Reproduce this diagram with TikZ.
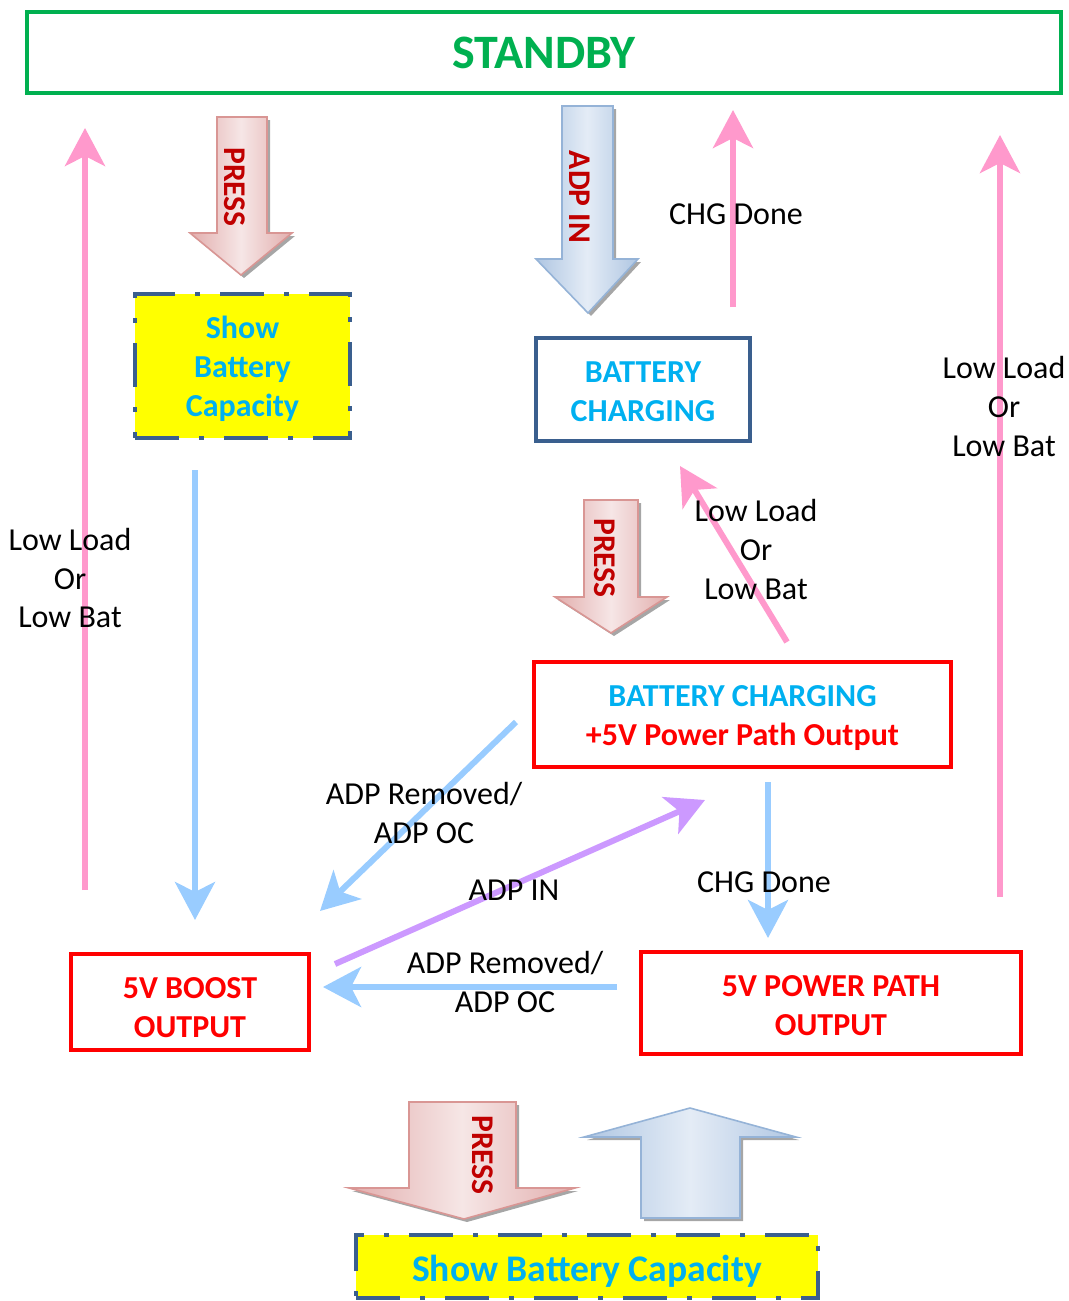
\documentclass[tikz,border=0pt]{standalone}
\usepackage{fontspec}
\setmainfont{Carlito}
\usetikzlibrary{arrows.meta,positioning}

\definecolor{standbygreen}{HTML}{00B050}
\definecolor{titleblue}{HTML}{00B0F0}
\definecolor{boxblue}{HTML}{3A5F8E}
\definecolor{showyellow}{RGB}{255,255,0}
\definecolor{pressred}{HTML}{C00000}
\definecolor{linkpink}{HTML}{FF99CC}
\definecolor{linkblue}{HTML}{99CCFF}
\definecolor{linkpurple}{HTML}{CC99FF}
\definecolor{pressedge}{HTML}{E2AEAD}
\definecolor{presscore}{HTML}{F6E6E6}
\definecolor{pressline}{HTML}{D99694}
\definecolor{adpedge}{HTML}{AFC6E2}
\definecolor{adpcore}{HTML}{E4ECF6}
\definecolor{adpline}{HTML}{95B3D7}

\begin{document}
\begin{tikzpicture}[x=0.5pt,y=-0.5pt,
  state/.style={draw=red,line width=2pt,inner sep=0pt},
  showbox/.style={draw=boxblue,fill=showyellow,line width=2pt,
    dash pattern=on 22pt off 10pt on 2.5pt off 10pt,inner sep=0pt},
  statetext/.style={align=center,text=red,inner sep=0pt,font=\fontsize{16}{19.5}\selectfont\bfseries},
  cond/.style={align=center,inner sep=0pt,font=\fontsize{16}{19.5}\selectfont},
  link/.style={line width=3pt,-{Stealth[length=19pt,width=20pt,inset=5pt]}},
  pressarrow/.style={draw=pressline,line width=0.8pt,left color=pressedge,right color=pressedge,middle color=presscore},
  adparrow/.style={draw=adpline,line width=0.8pt,left color=adpedge,right color=adpedge,middle color=adpcore},
  arrowshadow/.style={fill=black!35,draw=none,shift={(3,3)}},
  presstext/.style={rotate=-90,text=pressred,inner sep=0pt,font=\fontsize{15.8}{18}\selectfont\bfseries}
]
  \useasboundingbox (0,0) rectangle (1069,1301);

  % states
  \node[draw=standbygreen,line width=2pt,text=standbygreen,minimum width=517pt,minimum height=40.5pt,
    font=\fontsize{24}{28}\selectfont\bfseries] (standby) at (544,52.5) {STANDBY};
  \node[showbox,minimum width=107.5pt,minimum height=72pt] (showcap) at (242.5,366) {};
  \node[state,draw=boxblue,minimum width=107pt,minimum height=51.5pt] (batchg) at (643,389.5) {};
  \node[state,minimum width=208.5pt,minimum height=52.5pt] (chgpath) at (742.5,714.5) {};
  \node[state,minimum width=119pt,minimum height=48pt] (boost) at (190,1002) {};
  \node[state,minimum width=190pt,minimum height=51pt] (pathout) at (831,1003) {};
  \node[showbox,minimum width=231pt,minimum height=31.5pt] (showcapb) at (587,1266.5) {};

  \node[statetext,text=titleblue] (showcaptext) at ([yshift=-1.5pt]showcap.center) {Show\\Battery\\Capacity};
  \node[statetext,text=titleblue] (batchgtext) at ([yshift=-1pt]batchg.center) {BATTERY\\CHARGING};
  \node[statetext] (chgpathtext) at ([yshift=-2pt]chgpath.center) {\textcolor{titleblue}{BATTERY CHARGING}\\+5V Power Path Output};
  \node[statetext] (boosttext) at ([yshift=-3pt]boost.center) {5V BOOST\\OUTPUT};
  \node[statetext] (pathouttext) at ([yshift=-1.5pt]pathout.center) {5V POWER PATH\\OUTPUT};
  \node[statetext,text=titleblue,font=\fontsize{18.8}{22}\selectfont\bfseries] (showcapbtext) at (587,1271) {Show Battery Capacity};

  % block arrows (PRESS / ADP IN)
  \fill[arrowshadow] (217,117) -- (267,117) -- (267,233) -- (292,233) -- (241,275) -- (190,233) -- (217,233) -- cycle;
  \path[pressarrow] (217,117) -- (267,117) -- (267,233) -- (292,233) -- (241,275) -- (190,233) -- (217,233) -- cycle;
  \node[presstext] (press1) at (235,187) {PRESS};

  \fill[arrowshadow] (562,106) -- (613,106) -- (613,259) -- (638,259) -- (588,313) -- (536,259) -- (562,259) -- cycle;
  \path[adparrow] (562,106) -- (613,106) -- (613,259) -- (638,259) -- (588,313) -- (536,259) -- (562,259) -- cycle;
  \node[presstext] (adpin) at (580,197) {ADP IN};

  \fill[arrowshadow] (584,500) -- (638,500) -- (638,597) -- (667,597) -- (611,633) -- (555,597) -- (584,597) -- cycle;
  \path[pressarrow] (584,500) -- (638,500) -- (638,597) -- (667,597) -- (611,633) -- (555,597) -- (584,597) -- cycle;
  \node[presstext] (press2) at (605,558) {PRESS};

  \fill[arrowshadow] (409,1102) -- (516,1102) -- (516,1188) -- (575,1188) -- (464,1219) -- (349,1188) -- (409,1188) -- cycle;
  \path[pressarrow] (409,1102) -- (516,1102) -- (516,1188) -- (575,1188) -- (464,1219) -- (349,1188) -- (409,1188) -- cycle;
  \node[presstext] (press3) at (483,1155) {PRESS};

  \fill[arrowshadow] (641,1218) -- (740,1218) -- (740,1137) -- (796,1137) -- (690,1108) -- (584,1137) -- (641,1137) -- cycle;
  \path[adparrow] (641,1218) -- (740,1218) -- (740,1137) -- (796,1137) -- (690,1108) -- (584,1137) -- (641,1137) -- cycle;

  % free ends of the links
  \coordinate (boostup)    at (85,890);
  \coordinate (standbyl)   at (85,128);
  \coordinate (showdown)   at (195,470);
  \coordinate (boosttop)   at (195,920);
  \coordinate (chgup)      at (733,307);
  \coordinate (standbym)   at (733,110);
  \coordinate (pathup)     at (1000,897);
  \coordinate (standbyr)   at (1000,135);
  \coordinate (chgpathup)  at (787,642);
  \coordinate (batchgbot)  at (680,466);
  \coordinate (chgpathl)   at (516,722);
  \coordinate (boostne)    at (320,911);
  \coordinate (boostright) at (335,964);
  \coordinate (chgpathbot) at (705,800);
  \coordinate (chgpathdn)  at (768,782);
  \coordinate (pathtop)    at (768,938);
  \coordinate (pathleft)   at (617,987);
  \coordinate (boosteast)  at (323,987);

  % links
  \draw[link,linkpink] (boostup) -- (standbyl);
  \draw[link,linkblue] (showdown) -- (boosttop);
  \draw[link,linkpink] (chgup) -- (standbym);
  \draw[link,linkpink] (pathup) -- (standbyr);
  \draw[link,linkpink] (chgpathup) -- (batchgbot);
  \draw[link,linkblue] (chgpathl) -- (boostne);
  \draw[link,linkpurple] (boostright) -- (chgpathbot);
  \draw[link,linkblue] (chgpathdn) -- (pathtop);
  \draw[link,linkblue] (pathleft) -- (boosteast);

  % conditions
  \node[cond] (lowleft)  at (70,578)   {Low Load\\Or\\Low Bat};
  \node[cond] (lowright) at (1004,407) {Low Load\\Or\\Low Bat};
  \node[cond] (lowmid)   at (756,550)  {Low Load\\Or\\Low Bat};
  \node[cond] (chgdone1) at (736,214)  {CHG Done};
  \node[cond] (chgdone2) at (764,882)  {CHG Done};
  \node[cond] (adpin2)   at (514,890)  {ADP IN};
  \node[cond] (adprem1)  at (424,813)  {ADP Removed/\\ADP OC};
  \node[cond] (adprem2)  at (505,982)  {ADP Removed/\\ADP OC};
\end{tikzpicture}
\end{document}
